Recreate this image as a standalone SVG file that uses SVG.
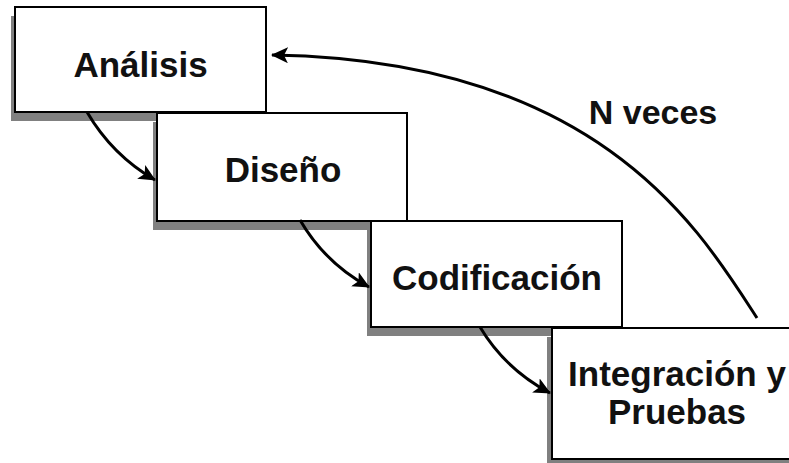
<svg xmlns="http://www.w3.org/2000/svg" width="789" height="463" viewBox="0 0 789 463">
  <defs>
    <style>
      .shadow { fill: #808080; stroke: none; }
      .box { fill: #ffffff; stroke: #000000; stroke-width: 2; }
      .label { font-family: "Liberation Sans", Arial, sans-serif; font-weight: bold; font-size: 35px; fill: #111111; text-anchor: middle; }
      .conn { fill: none; stroke: #000000; stroke-width: 3; marker-end: url(#arrow); }
    </style>
    <marker id="arrow" markerUnits="userSpaceOnUse" markerWidth="20" markerHeight="18" refX="16" refY="8" orient="auto">
      <path d="M0,0 L17,8 L0,16 L4,8 Z" fill="#000000"/>
    </marker>
  </defs>
  <rect width="789" height="463" fill="#ffffff"/>

  <g id="node-analisis">
    <rect class="shadow" x="11" y="16" width="251" height="105"/>
    <rect class="box" x="15" y="7" width="251" height="105"/>
    <text class="label" x="140.5" y="77">Análisis</text>
  </g>

  <g id="node-diseno">
    <rect class="shadow" x="153" y="122" width="250" height="108"/>
    <rect class="box" x="157" y="113" width="250" height="108"/>
    <text class="label" x="283" y="182">Diseño</text>
  </g>

  <g id="node-codificacion">
    <rect class="shadow" x="367" y="230" width="251" height="106"/>
    <rect class="box" x="371" y="221" width="251" height="106"/>
    <text class="label" x="497" y="290">Codificación</text>
  </g>

  <g id="node-integracion">
    <rect class="shadow" x="547" y="337" width="250" height="131"/>
    <rect class="box" x="552" y="328" width="250" height="131"/>
    <text class="label" x="677" y="386">Integración y</text>
    <text class="label" x="677" y="424">Pruebas</text>
  </g>

  <g id="connectors">
    <path class="conn" d="M87,112 Q112,155 155,180"/>
    <path class="conn" d="M300,220 Q325,263 369,287"/>
    <path class="conn" d="M480,327 Q505,369 550,393"/>
    <path class="conn" d="M757,318 C700,230 600,60 272,55"/>
    <text class="label" x="653" y="124" style="font-size:34px">N veces</text>
  </g>
</svg>
